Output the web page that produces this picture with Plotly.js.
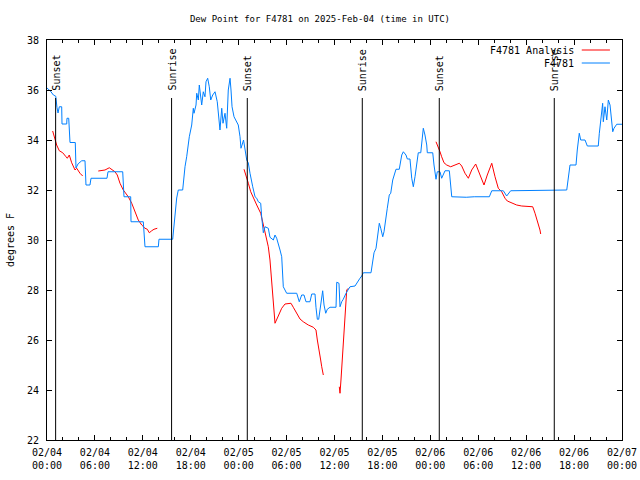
<!DOCTYPE html>
<html>
<head>
<meta charset="utf-8">
<script src="https://cdn.plot.ly/plotly-3.0.1.min.js"></script>
<style>html,body{margin:0;padding:0;background:#fff;}#chart{width:640px;height:480px;}</style>
</head>
<body>
<div id="chart"></div>
<script>
// Times are hours after 2025-02-04 00:00 UTC
const startUTC = Date.UTC(2025, 1, 4, 0, 0, 0);

const obsHours = [0.00,0.45,0.80,1.10,1.25,1.38,1.54,1.84,1.88,2.47,2.50,2.72,2.88,3.54,3.63,3.90,4.35,4.76,4.88,5.38,5.51,7.51,7.64,9.48,9.64,10.48,10.52,12.06,12.27,13.94,14.02,15.74,16.24,16.44,16.99,17.09,17.28,17.49,17.82,18.12,18.32,18.41,18.66,18.75,18.95,19.07,19.25,19.37,19.57,19.78,19.91,20.12,20.32,20.50,20.75,21.04,21.32,21.54,21.66,21.88,22.04,22.29,22.50,22.70,22.92,23.04,23.17,23.42,23.67,23.95,24.17,24.29,24.42,24.61,25.01,25.21,25.42,25.63,25.76,26.05,26.26,26.46,26.76,26.88,27.09,27.30,27.71,27.92,28.34,28.55,28.76,29.18,29.39,29.59,30.01,31.27,31.59,31.89,32.18,32.43,32.93,33.15,33.56,33.68,33.85,34.02,34.31,34.52,34.69,34.90,35.10,35.44,36.19,36.28,36.56,36.69,36.90,37.10,37.44,37.60,37.94,38.57,38.86,39.19,39.41,39.61,40.57,40.78,40.95,41.20,41.36,41.61,41.79,42.04,42.20,42.45,42.61,42.86,43.04,43.29,43.45,43.70,44.11,44.42,44.62,44.95,45.12,45.45,45.67,45.87,46.08,46.29,46.49,46.80,46.92,47.12,47.33,47.55,47.62,48.30,48.46,48.71,48.87,49.21,49.42,49.62,49.84,50.38,50.68,52.50,53.50,55.39,55.69,57.14,57.56,58.06,61.00,65.08,65.49,66.24,66.40,66.65,66.83,67.37,67.66,69.03,69.16,69.33,69.46,69.58,69.66,69.87,70.09,70.29,70.50,70.71,70.84,71.00,71.34,72.00];
const obsDew = [36.08,35.95,35.80,35.75,35.30,35.08,35.33,35.33,34.64,34.64,34.87,34.87,33.90,33.90,32.88,33.05,33.17,33.17,32.20,32.20,32.47,32.47,32.73,32.73,31.73,31.73,30.73,30.73,29.73,29.73,30.03,30.03,31.68,32.00,32.00,32.33,32.93,33.33,34.13,34.60,35.27,35.07,35.40,35.87,35.60,36.20,35.80,35.40,35.93,35.73,36.33,36.47,36.13,35.60,35.80,35.93,35.53,34.87,34.40,35.27,34.67,35.07,34.47,36.00,36.47,36.00,35.33,34.93,34.80,34.60,34.13,33.67,33.80,34.00,33.20,33.08,32.67,32.27,32.13,31.73,31.67,31.53,31.47,30.93,30.29,30.53,30.47,30.11,30.00,30.20,30.07,29.60,29.33,28.13,27.87,27.87,27.53,27.80,27.80,27.53,27.53,27.84,27.84,27.31,26.83,26.83,27.53,27.97,27.40,27.07,27.23,27.31,27.31,28.31,28.27,27.33,27.53,27.63,27.87,27.97,28.13,28.16,28.33,28.47,28.56,28.69,28.69,29.20,29.49,29.67,30.16,30.67,30.47,30.13,30.33,31.07,31.27,31.80,31.87,32.40,32.60,32.83,32.83,33.40,33.53,33.40,33.24,33.24,32.47,32.13,32.53,33.13,33.49,33.49,34.00,34.47,34.20,33.80,33.49,33.49,33.00,32.43,32.73,32.73,32.47,32.60,32.77,32.77,31.73,31.71,31.73,31.73,31.97,31.97,31.76,31.97,31.97,32.00,33.00,33.00,33.60,34.27,34.00,34.00,33.76,33.76,34.27,34.80,35.27,35.47,34.73,35.33,34.80,35.60,35.40,34.73,34.33,34.47,34.63,34.63];

const anaHours = [0.71,1.00,1.21,1.54,1.97,2.38,2.54,2.79,3.09,3.51,3.72,4.13,4.47,5.50,6.42,7.26,7.80,8.10,8.51,8.80,9.14,9.55,10.18,10.61,11.14,11.43,11.86,12.27,12.56,12.81,13.11,13.40,13.81,19.00,24.67,24.92,25.21,25.51,25.83,26.26,26.76,27.09,27.43,27.71,27.92,28.14,28.34,28.55,28.96,29.39,29.80,30.55,30.84,31.27,31.68,32.09,32.72,33.35,33.68,33.85,34.10,34.27,34.40,34.60,35.50,36.60,36.69,36.81,37.03,37.19,37.35,37.53,37.73,43.00,48.71,49.00,49.21,49.42,49.71,50.05,50.55,51.09,51.63,51.93,52.34,52.76,53.18,53.68,54.22,54.72,55.13,55.69,56.10,56.51,56.94,57.35,57.64,58.19,58.81,59.44,60.07,60.82,61.11,61.32,61.52,61.73,61.82];
const anaDew = [34.36,34.03,33.80,33.57,33.49,33.33,33.27,33.40,33.09,32.80,32.87,32.67,32.56,null,32.76,32.80,32.89,32.83,32.73,32.60,32.27,32.00,31.73,31.47,31.07,30.80,30.60,30.47,30.43,30.29,30.37,30.43,30.47,null,32.83,32.60,32.27,31.93,31.67,31.40,31.07,30.60,30.13,29.73,29.20,28.27,27.40,26.67,26.96,27.27,27.44,27.47,27.31,27.04,26.84,26.73,26.60,26.51,26.40,26.00,25.60,25.20,24.93,24.60,null,24.13,23.87,24.40,25.60,26.53,27.33,28.00,28.07,null,33.93,33.73,33.53,33.33,33.09,33.00,32.93,33.00,33.07,32.96,32.67,32.47,32.80,33.04,32.56,32.20,32.60,33.07,32.53,32.07,31.93,31.67,31.56,31.47,31.40,31.36,31.36,31.33,31.07,30.87,30.67,30.40,30.24];

const sunHours = [1.08, 15.60, 25.08, 39.48, 49.12, 63.52];
const sunLabels = ['Sunset', 'Sunrise', 'Sunset', 'Sunrise', 'Sunset', 'Sunrise'];

const seriesNames = ['F4781 Analysis', 'F4781'];
const seriesColors = ['#ff0000', '#0080ff'];

function toDate(h) {
  return new Date(startUTC + h * 3600000).toISOString().replace('T', ' ').replace('Z', '');
}

const FONT = {family: 'DejaVu Sans Mono, monospace', size: 10, color: '#000'};
const TITLE_FONT = {family: 'DejaVu Sans Mono, monospace', size: 9, color: '#000'};

const traces = [
  {x: anaHours.map(toDate), y: anaDew, type: 'scatter', mode: 'lines', name: seriesNames[0],
   connectgaps: false, line: {color: seriesColors[0], width: 1}},
  {x: obsHours.map(toDate), y: obsDew, type: 'scatter', mode: 'lines', name: seriesNames[1],
   line: {color: seriesColors[1], width: 1}}
];

const shapes = sunHours.map(h => ({
  type: 'line', xref: 'x', yref: 'paper', x0: toDate(h), x1: toDate(h), y0: 0, y1: 0.855,
  line: {color: '#000', width: 1}
}));
const annotations = sunHours.map((h, i) => ({
  x: toDate(h), xref: 'x', y: 0.87, yref: 'paper', text: sunLabels[i], textangle: -90,
  showarrow: false, xanchor: 'center', yanchor: 'bottom', borderpad: 0, font: FONT
}));

// legend drawn gnuplot-style: text on the left, sample line on the right
const legendY = [0.975, 0.9425];
seriesNames.forEach((n, i) => {
  annotations.push({x: 0.918, xref: 'paper', y: legendY[i], yref: 'paper', text: n, showarrow: false,
    xanchor: 'right', yanchor: 'middle', borderpad: 0, font: FONT});
  shapes.push({type: 'line', xref: 'paper', yref: 'paper', x0: 0.930, x1: 0.979, y0: legendY[i], y1: legendY[i],
    line: {color: seriesColors[i], width: 1}});
});

const layout = {
  width: 640, height: 480,
  margin: {l: 47, r: 18, t: 40, b: 40, pad: 0},
  paper_bgcolor: '#fff', plot_bgcolor: '#fff',
  showlegend: false,
  font: FONT,
  title: {text: 'Dew Point for F4781 on 2025-Feb-04 (time in UTC)', font: TITLE_FONT,
          x: 0.5, xanchor: 'center', y: 1 - 19 / 480, yref: 'container', yanchor: 'middle'},
  xaxis: {
    type: 'date', range: [toDate(0), toDate(72)],
    tick0: toDate(0), dtick: 6 * 3600000, tickformat: '%m/%d<br>%H:%M',
    ticks: 'inside', ticklen: 5, tickcolor: '#000', tickwidth: 1,
    minor: {dtick: 2 * 3600000, ticks: 'inside', ticklen: 3, tickcolor: '#000', showgrid: false},
    showline: true, linecolor: '#000', linewidth: 1, mirror: 'ticks',
    showgrid: false, zeroline: false, tickfont: FONT, ticklabelstandoff: 3
  },
  yaxis: {
    range: [22, 38], dtick: 2, tick0: 22,
    ticks: 'inside', ticklen: 5, tickcolor: '#000', tickwidth: 1,
    showline: true, linecolor: '#000', linewidth: 1, mirror: 'ticks',
    showgrid: false, zeroline: false, tickfont: FONT, ticklabelstandoff: 5,
    title: {text: 'degrees F', font: FONT, standoff: 10}
  },
  shapes: shapes,
  annotations: annotations
};

Plotly.newPlot('chart', traces, layout, {staticPlot: true, displayModeBar: false});
</script>
</body>
</html>
